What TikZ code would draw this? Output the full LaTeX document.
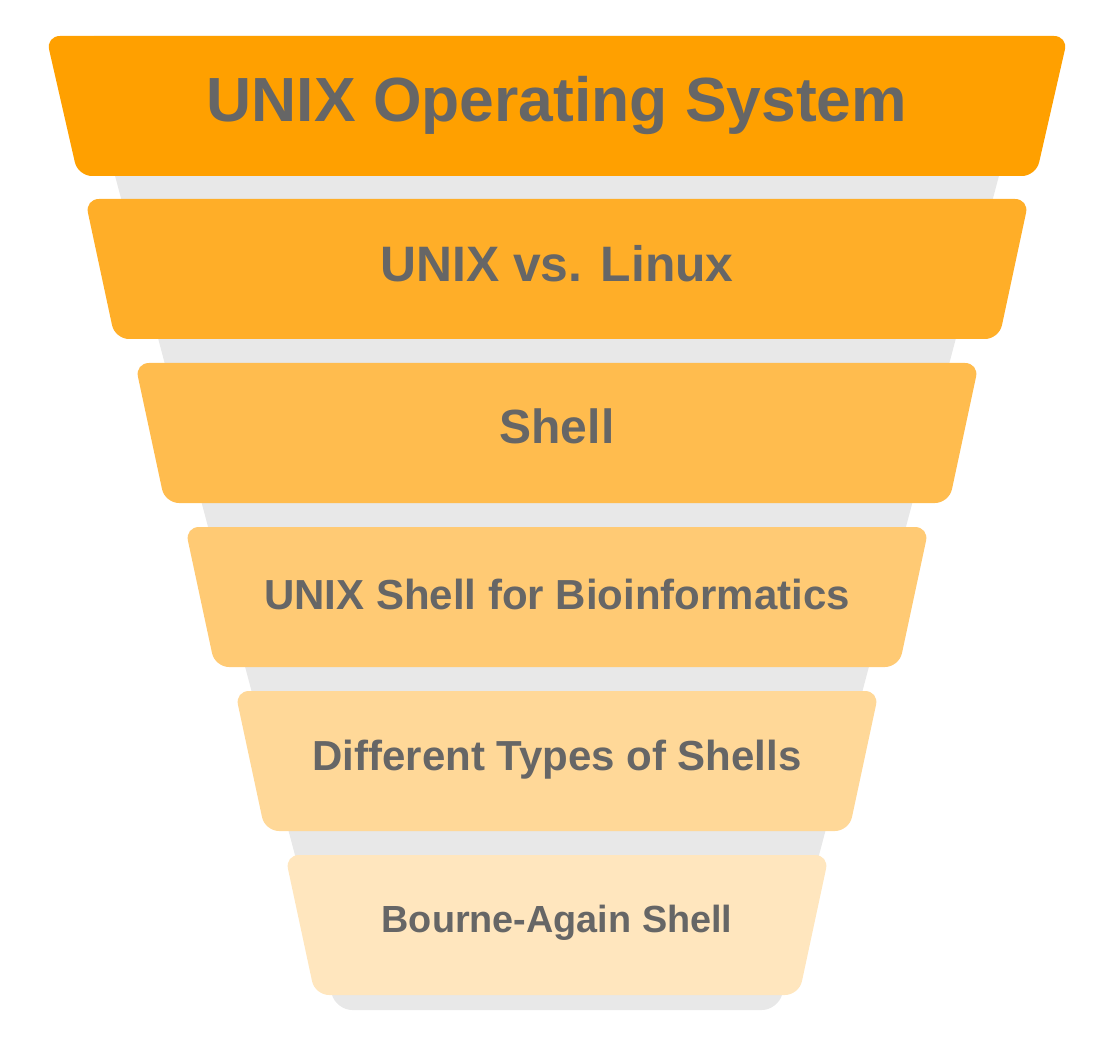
\documentclass[tikz,border=0pt]{standalone}
\usepackage{fontspec}
\setmainfont{Liberation Sans}
\usepackage{xcolor}
\usepackage{tikz}
\definecolor{funnelgrey}{RGB}{232,232,232}
\definecolor{labelgrey}{RGB}{102,102,102}
\definecolor{bandone}{RGB}{255,160,0}
\definecolor{bandtwo}{RGB}{255,174,40}
\definecolor{bandthree}{RGB}{255,188,78}
\definecolor{bandfour}{RGB}{255,202,116}
\definecolor{bandfive}{RGB}{255,216,152}
\definecolor{bandsix}{RGB}{255,230,190}
\tikzset{
  band/.style={rounded corners=14pt},
  lbl/.style={anchor=base, inner sep=0pt, text=labelgrey},
  every picture/.style={line cap=round, line join=round}
}
\newcommand{\lblsize}[1]{\bfseries\fontsize{#1}{#1}\selectfont}

\begin{document}
\begin{tikzpicture}[x=1pt,y=-1pt]
  \useasboundingbox (0,0) rectangle (1114,1048);
  % grey funnel behind the bands
  \fill[funnelgrey, rounded corners=16pt] (78,36) -- (1036,36) -- (778,1010) -- (336,1010) -- cycle;
  % bands
  \fill[band, bandone]   (46,36)  -- (1068,36)  -- (1036,176) -- (78,176)  -- cycle;
  \fill[band, bandtwo]   (85,199) -- (1029,199) -- (999,339)  -- (115,339) -- cycle;
  \fill[band, bandthree] (135,363) -- (979,363) -- (949,503)  -- (165,503) -- cycle;
  \fill[band, bandfour]  (185,527) -- (929,527) -- (899,667)  -- (215,667) -- cycle;
  \fill[band, bandfive]  (235,691) -- (879,691) -- (849,831)  -- (265,831) -- cycle;
  \fill[band, bandsix]   (285,855) -- (829,855) -- (799,995)  -- (315,995) -- cycle;
  % labels
  \node[lbl, font=\lblsize{62.4}] (unix)   at (557,122) {UNIX Operating System};
  \node[lbl, font=\lblsize{49.8}] (linux)  at (557,282) {UNIX vs. Linux};
  \node[lbl, font=\lblsize{48}]   (shell)  at (557,443) {Shell};
  \node[lbl, font=\lblsize{42}]   (bioinf) at (557,609) {UNIX Shell for Bioinformatics};
  \node[lbl, font=\lblsize{42}]   (types)  at (557,770) {Different Types of Shells};
  \node[lbl, font=\lblsize{37.8}] (bash)   at (557,932) {Bourne-Again Shell};
\end{tikzpicture}
\end{document}
